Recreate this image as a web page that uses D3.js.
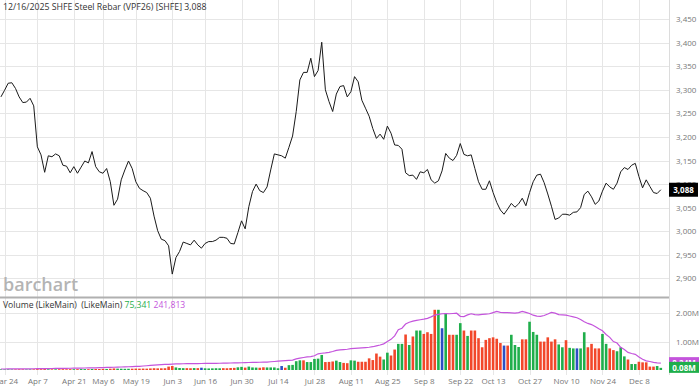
<!DOCTYPE html>
<html>
<head>
<meta charset="utf-8">
<script src="https://cdn.jsdelivr.net/npm/d3@7"></script>
<style>
    body { margin: 0; background: #fff; }
    text { font-family: "Open Sans", sans-serif; }
</style>
</head>
<body>
<div id="chart"></div>
<script>
// one entry per trading day, index 0 = Mar 21 2025, last = Dec 16 2025
var tickLabels = ["Mar 24", "Apr 7", "Apr 21", "May 6", "May 19", "Jun 3", "Jun 16", "Jun 30", "Jul 14",
    "Jul 28", "Aug 11", "Aug 25", "Sep 8", "Sep 22", "Oct 13", "Oct 27", "Nov 10", "Nov 24", "Dec 8"];
var tickDays = [1, 10, 20, 28, 37, 47, 56, 66, 76, 86, 96, 106, 116, 126, 135, 145, 155, 165, 175];

var closes = [
    3285, 3299, 3314, 3315, 3303, 3285, 3273, 3274, 3282, 3266, 3179,
    3162, 3125, 3160, 3158, 3164, 3160, 3140, 3138, 3124, 3137,
    3123, 3136, 3149, 3145, 3169, 3137, 3126, 3123, 3133, 3105,
    3055, 3068, 3109, 3130, 3149, 3133, 3105, 3091, 3086, 3082,
    3070, 3032, 3001, 2983, 2980, 2969, 2909, 2944, 2957, 2977,
    2974, 2971, 2981, 2971, 2964, 2974, 2978, 2978, 2981, 2987,
    2987, 2985, 2974, 2973, 2997, 3022, 3005, 3052, 3084, 3100,
    3086, 3082, 3094, 3130, 3164, 3162, 3160, 3155, 3178, 3202,
    3254, 3321, 3337, 3337, 3367, 3328, 3341, 3401, 3300, 3275,
    3254, 3291, 3307, 3309, 3285, 3296, 3328, 3317, 3278, 3261,
    3244, 3218, 3197, 3206, 3195, 3223, 3208, 3183, 3182, 3174,
    3124, 3118, 3119, 3110, 3126, 3124, 3131, 3109, 3102, 3107,
    3128, 3165, 3155, 3150, 3161, 3186, 3163, 3160, 3162, 3133,
    3105, 3089, 3089, 3107, 3082, 3061, 3045, 3036, 3047, 3059,
    3051, 3058, 3070, 3054, 3082, 3105, 3119, 3121, 3103, 3079,
    3053, 3025, 3028, 3036, 3036, 3034, 3040, 3041, 3050, 3078,
    3085, 3073, 3057, 3064, 3085, 3102, 3094, 3089, 3102, 3126,
    3135, 3131, 3140, 3144, 3116, 3092, 3109, 3095, 3082, 3080, 3088
];

// volume and open interest, thousands of contracts
var volumes = [
    25, 22, 24, 20, 22, 25, 23, 20, 22, 24, 30,
    28, 32, 26, 24, 25, 27, 28, 26, 30, 28,
    30, 33, 32, 30, 36, 38, 35, 40, 38, 45,
    55, 48, 45, 42, 44, 46, 50, 48, 50, 48,
    55, 62, 58, 60, 62, 120, 140, 90, 70, 65,
    65, 62, 68, 65, 80, 60, 55, 58, 62, 60,
    65, 62, 70, 75, 95, 110, 85, 120, 90, 85,
    80, 95, 90, 90, 90, 60, 140, 80, 170, 180,
    310, 340, 340, 280, 280, 390, 400, 530, 280, 285,
    300, 330, 280, 250, 240, 340, 330, 290, 290, 290,
    410, 350, 580, 470, 370, 610, 510, 720, 920, 920,
    1250, 880, 1180, 1390, 1390, 1270, 1330, 1270, 2120, 2120,
    1470, 2000, 1240, 1240, 1240, 1650, 1390, 1200, 1390, 1390,
    1120, 800, 1060, 1120, 1150, 1100, 950, 860, 860, 1240,
    880, 810, 1080, 1080, 1700, 1340, 1240, 1000, 1000, 1150,
    1000, 1080, 900, 800, 1050, 780, 760, 760, 760, 1330,
    800, 920, 760, 760, 1270, 920, 760, 700, 660, 800,
    480, 370, 210, 210, 290, 270, 270, 120, 120, 140, 75.341
];

var openInterest = [
    35, 36, 37, 38, 39, 40, 41, 42, 43, 44, 45,
    47, 48, 50, 52, 54, 56, 58, 60, 62, 64,
    66, 68, 70, 72, 75, 78, 81, 85, 89, 93,
    97, 100, 105, 110, 115, 120, 125, 130, 140, 150,
    160, 170, 180, 190, 195, 200, 210, 215, 218, 220,
    222, 224, 225, 226, 228, 230, 232, 234, 236, 238,
    240, 243, 246, 250, 253, 256, 260, 264, 268, 270,
    272, 275, 278, 290, 300, 310, 320, 330, 340, 350,
    390, 420, 440, 460, 470, 500, 570, 590, 600, 620,
    650, 690, 710, 720, 730, 750, 760, 770, 780, 790,
    800, 820, 850, 880, 920, 1000, 1080, 1200, 1420, 1470,
    1620, 1680, 1720, 1750, 1770, 1790, 1820, 1870, 1930, 1960,
    1980, 1990, 1980, 1990, 2000, 1890, 1880, 1940, 1980, 1950,
    1940, 1960, 1970, 1980, 2020, 2060, 2030, 2020, 2020, 2010,
    2000, 2020, 2060, 2030, 1990, 1930, 1900, 1890, 1920, 1970,
    2030, 2000, 1950, 1940, 1930, 1900, 1870, 1840, 1780, 1700,
    1640, 1600, 1530, 1450, 1380, 1250, 1150, 1000, 950, 800,
    720, 620, 580, 550, 460, 380, 320, 300, 270, 250, 241.813
];

// bar colour per day: g = up, r = down, b = unchanged
var volDirection = ("ggggrrrggrr" + "rrgrgrrrrg" + "rggrgrrrgr" + "rggggrrrrr" + "rrrrrrrggg" +
    "rrgrbggggg" + "rrrrggrggg" + "rrggggbrgg" + "ggrgggggrr" + "rggrrggrrr" + "rrrrggrrgg" +
    "rgrggrrrrg" + "bgrrggrgrr" + "rrrrrrrbrg" + "ggrrgggrrr" + "rrggrggbgg" + "rrrrggrrgg" +
    "grggrrrrrgg").split("");

var priceTicks = [2900, 2950, 3000, 3050, 3100, 3150, 3200, 3250, 3300, 3350, 3400, 3450];
var volTicks = [1000, 2000];

var svgWidth = 700;
var svgHeight = 389;
var plotRight = 669;
var priceBottom = 297;
var volTop = 298;
var volBottom = 370;

var barColors = { g: "#1fae4b", r: "#f2472a", b: "#2c4fc4" };
var purple = "#c454dc";

var svg = d3.select("#chart")
    .append("svg")
    .attr("width", svgWidth)
    .attr("height", svgHeight);

// scales
var x = d3.scaleLinear().domain([-0.25, 183.25]).range([0, plotRight]);
var yPrice = d3.scaleLinear().domain([2860.4, 3490.6]).range([priceBottom, 0]);
var yVol = d3.scaleLinear().domain([0, 2535]).range([volBottom, volTop]);

svg.append("clipPath").attr("id", "plotClip")
    .append("rect").attr("x", 0).attr("y", 0).attr("width", plotRight).attr("height", svgHeight);

// grid lines
var grid = svg.append("g").attr("stroke", "#e6e6e6").attr("stroke-width", 1);
grid.selectAll(".hp").data(priceTicks).enter().append("line")
    .attr("x1", 0).attr("x2", plotRight)
    .attr("y1", d => Math.round(yPrice(d)) + 0.5).attr("y2", d => Math.round(yPrice(d)) + 0.5);
grid.selectAll(".hv").data(volTicks).enter().append("line")
    .attr("x1", 0).attr("x2", plotRight)
    .attr("y1", d => Math.round(yVol(d)) + 0.5).attr("y2", d => Math.round(yVol(d)) + 0.5);
grid.selectAll(".vx").data(tickDays).enter().append("line")
    .attr("x1", d => Math.round(x(d)) + 0.5).attr("x2", d => Math.round(x(d)) + 0.5)
    .attr("y1", 0).attr("y2", 375);

// right border of the plot and panel separator
svg.append("line")
    .attr("x1", plotRight + 0.5).attr("x2", plotRight + 0.5)
    .attr("y1", 0).attr("y2", 375)
    .attr("stroke", "#dcdcdc");
svg.append("line")
    .attr("x1", 0).attr("x2", plotRight)
    .attr("y1", 297.5).attr("y2", 297.5)
    .attr("stroke", "#b0b0b0").attr("stroke-width", 2);

// watermark
svg.append("text")
    .attr("x", 3).attr("y", 291)
    .attr("font-size", 18).attr("font-weight", 600)
    .attr("fill", "#b4b4b4")
    .text("barchart");

// price line
svg.append("path")
    .datum(closes)
    .attr("clip-path", "url(#plotClip)")
    .attr("fill", "none")
    .attr("stroke", "#1a1a1a")
    .attr("stroke-width", 1)
    .attr("d", d3.line().x((d, i) => x(i)).y(d => yPrice(d)));

// volume bars
var barW = 2.6;
svg.append("g").attr("clip-path", "url(#plotClip)")
    .selectAll("rect").data(volumes).enter().append("rect")
    .attr("x", (d, i) => x(i) - barW / 2)
    .attr("y", d => yVol(d))
    .attr("width", barW)
    .attr("height", d => volBottom - yVol(d))
    .attr("fill", (d, i) => barColors[volDirection[i]]);

// open interest line
svg.append("path")
    .datum(openInterest)
    .attr("clip-path", "url(#plotClip)")
    .attr("fill", "none")
    .attr("stroke", purple)
    .attr("stroke-width", 1.2)
    .attr("d", d3.line().x((d, i) => x(i)).y(d => yVol(d)));

// axes
var priceAxis = svg.append("g")
    .attr("transform", "translate(674,0)")
    .call(d3.axisRight(yPrice).tickValues(priceTicks).tickSize(0).tickPadding(2)
        .tickFormat(d3.format(",")));
var volAxis = svg.append("g")
    .attr("transform", "translate(674,0)")
    .call(d3.axisRight(yVol).tickValues(volTicks).tickSize(0).tickPadding(2)
        .tickFormat(d => (d / 1000).toFixed(2) + "M"));
var dateAxis = svg.append("g")
    .attr("transform", "translate(0,375)")
    .call(d3.axisBottom(x).tickValues(tickDays).tickSize(0).tickPadding(3)
        .tickFormat((d, i) => tickLabels[i]));

[priceAxis, volAxis, dateAxis].forEach(function(ax) {
    ax.select(".domain").remove();
    ax.selectAll("text")
        .attr("font-family", "Open Sans, sans-serif")
        .attr("font-size", 8)
        .attr("fill", "#777");
});

// last value markers
var lastPrice = closes[closes.length - 1];
svg.append("rect")
    .attr("x", 669).attr("y", yPrice(lastPrice) - 7)
    .attr("width", 29).attr("height", 14).attr("fill", "#000");
svg.append("text")
    .attr("x", 683.5).attr("y", yPrice(lastPrice) + 3)
    .attr("text-anchor", "middle")
    .attr("font-size", 8).attr("font-weight", 700).attr("fill", "#fff")
    .text(d3.format(",")(lastPrice));

var lastOI = openInterest[openInterest.length - 1];
var lastVol = volumes[volumes.length - 1];
svg.append("rect")
    .attr("x", 669).attr("y", yVol(lastOI) - 6)
    .attr("width", 30).attr("height", 12).attr("fill", purple);
svg.append("text")
    .attr("x", 684).attr("y", yVol(lastOI) + 3)
    .attr("text-anchor", "middle")
    .attr("font-size", 8).attr("font-weight", 700).attr("fill", "#fff")
    .text((lastOI / 1000).toFixed(2) + "M");
svg.append("rect")
    .attr("x", 669).attr("y", yVol(lastVol) - 6)
    .attr("width", 30).attr("height", 11).attr("fill", barColors.g);
svg.append("text")
    .attr("x", 684).attr("y", yVol(lastVol) + 3)
    .attr("text-anchor", "middle")
    .attr("font-size", 8).attr("font-weight", 700).attr("fill", "#fff")
    .text((lastVol / 1000).toFixed(2) + "M");

// title and volume legend
svg.append("text")
    .attr("x", 3).attr("y", 10)
    .attr("font-size", 8.75).attr("fill", "#333")
    .text("12/16/2025 SHFE Steel Rebar (VPF26) [SHFE] 3,088");

var legend = svg.append("text")
    .attr("x", 3).attr("y", 308)
    .attr("font-size", 8.6).attr("fill", "#333")
    .style("white-space", "pre");
legend.append("tspan").text("Volume (LikeMain)  (LikeMain) ");
legend.append("tspan").attr("fill", barColors.g).text(d3.format(",")(Math.round(lastVol * 1000)));
legend.append("tspan").attr("fill", purple).text(" " + d3.format(",")(Math.round(lastOI * 1000)));
</script>
</body>
</html>
